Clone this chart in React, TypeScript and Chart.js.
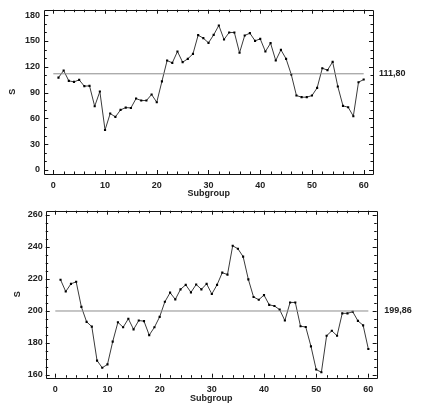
import React, { useEffect, useRef } from "react";
import { Chart, registerables } from "chart.js";

Chart.register(...registerables);

// ---- data ----
const SUBGROUPS: number[] = Array.from({ length: 60 }, (_, i) => i + 1);

const S_TOP: number[] = [
  107.4, 115.6, 103.6, 102.4, 104.7, 97.4, 97.8, 74, 91.2, 46.5,
  65.6, 61.7, 69.8, 72.5, 72.1, 83, 80.7, 80.7, 87.7, 78.7,
  103, 127.2, 124.5, 137.7, 125.3, 129.2, 135, 156.7, 153.2, 147.8,
  157, 168, 151.7, 159.8, 159.8, 136.2, 156.3, 159, 150.1, 152.4,
  137.7, 147.4, 127.2, 139.6, 129.2, 111, 86.5, 84.6, 84.6, 86.5,
  95.4, 118.3, 116, 125.7, 97, 74.5, 72.9, 62.5, 102, 105.1,
];
const CENTER_TOP = 111.8;
const CENTER_TOP_LABEL = "111,80";

const S_BOTTOM: number[] = [
  219.4, 212, 216.8, 218.1, 202.4, 193.1, 190.1, 168.9, 164.4, 166.5,
  180.7, 192.8, 189.7, 195, 188.4, 193.9, 193.5, 184.8, 189.7, 196.2,
  205.6, 211.3, 207.1, 213.4, 216.2, 211.5, 216.4, 213.4, 216.8, 210.5,
  216.2, 223.8, 222.6, 240.6, 238.7, 233.8, 219.6, 208.6, 206.9, 209.8,
  203.7, 203, 200.7, 193.9, 205.2, 205.2, 190.3, 189.9, 177.8, 163.3,
  161.6, 184.4, 187.5, 184.4, 198.4, 198.4, 199.4, 193.7, 190.9, 176.1,
];
const CENTER_BOTTOM = 199.86;
const CENTER_BOTTOM_LABEL = "199,86";

const X_TICKS: number[] = [0, 10, 20, 30, 40, 50, 60];
const X_MINOR_STEP = 2;
const Y_TICKS_TOP: number[] = [0, 30, 60, 90, 120, 150, 180];
const Y_MINOR_STEP_TOP = 10;
const Y_TICKS_BOTTOM: number[] = [160, 180, 200, 220, 240, 260];
const Y_MINOR_STEP_BOTTOM = 5;

const X_TITLE = "Subgroup";
const Y_TITLE = "S";

const FONT_FAMILY = "'Liberation Sans', Arial, sans-serif";
const TEXT_COLOR = "#222";

interface PanelCfg {
  height: number;
  values: number[];
  center: number;
  centerLabel: string;
  yTicks: number[];
  yMinor: number;
  xMin: number;
  xMax: number;
  yMin: number;
  yMax: number;
  padTop: number;
  padRight: number;
  yWidth: number;
  xHeight: number;
  yTitlePad: number;
  xTitlePad: number;
  yTickPad: number;
  xTickPad: number;
  labelGap: number;
}

function makeFramePlugin(cfg: PanelCfg) {
  return {
    id: "frameTicks",
    afterDatasetsDraw(chart: any) {
      const { ctx, chartArea } = chart;
      const xs = chart.scales.x;
      const ys = chart.scales.y;
      const { left, right, top, bottom } = chartArea;
      ctx.save();
      ctx.strokeStyle = "#111";
      ctx.lineWidth = 1;
      ctx.beginPath();
      ctx.rect(Math.round(left) + 0.5, Math.round(top) + 0.5, Math.round(right - left), Math.round(bottom - top));
      ctx.stroke();

      const drawX = (v: number, len: number) => {
        const p = Math.round(xs.getPixelForValue(v)) + 0.5;
        ctx.beginPath();
        ctx.moveTo(p, bottom);
        ctx.lineTo(p, bottom - len);
        ctx.moveTo(p, top);
        ctx.lineTo(p, top + len);
        ctx.stroke();
      };
      const drawY = (v: number, len: number) => {
        const p = Math.round(ys.getPixelForValue(v)) + 0.5;
        ctx.beginPath();
        ctx.moveTo(left, p);
        ctx.lineTo(left + len, p);
        ctx.moveTo(right, p);
        ctx.lineTo(right - len, p);
        ctx.stroke();
      };
      const x0 = X_TICKS[0];
      const x1 = X_TICKS[X_TICKS.length - 1];
      for (let v = x0; v <= x1 + 1e-9; v += X_MINOR_STEP) {
        drawX(v, X_TICKS.includes(v) ? 4 : 2.5);
      }
      const y0 = cfg.yTicks[0];
      const y1 = cfg.yTicks[cfg.yTicks.length - 1];
      for (let v = y0; v <= y1 + 1e-9; v += cfg.yMinor) {
        drawY(v, cfg.yTicks.includes(v) ? 4 : 2.5);
      }

      // center line value label
      const cy = ys.getPixelForValue(cfg.center);
      ctx.fillStyle = TEXT_COLOR;
      ctx.font = `bold 9px ${FONT_FAMILY}`;
      ctx.textAlign = "left";
      ctx.textBaseline = "middle";
      ctx.fillText(cfg.centerLabel, right + cfg.labelGap, cy);
      ctx.restore();
    },
  };
}

function Panel({ cfg }: { cfg: PanelCfg }) {
  const ref = useRef<HTMLCanvasElement | null>(null);
  useEffect(() => {
    if (!ref.current) return;
    const xFirst = X_TICKS[0];
    const xLast = X_TICKS[X_TICKS.length - 1];
    const chart = new Chart(ref.current, {
      type: "line",
      data: {
        datasets: [
          {
            data: [
              { x: xFirst, y: cfg.center },
              { x: xLast, y: cfg.center },
            ],
            borderColor: "#8c8c8c",
            borderWidth: 1,
            pointRadius: 0,
            fill: false,
          },
          {
            data: SUBGROUPS.map((s, i) => ({ x: s, y: cfg.values[i] })),
            borderColor: "#3a3a3a",
            borderWidth: 1,
            pointStyle: "rect",
            pointRadius: 1.5,
            pointBackgroundColor: "#000",
            pointBorderWidth: 0,
            fill: false,
            tension: 0,
          },
        ],
      },
      options: {
        animation: false,
        responsive: false,
        devicePixelRatio: 1,
        events: [],
        layout: { padding: { top: cfg.padTop, right: cfg.padRight, bottom: 0, left: 0 } },
        plugins: { legend: { display: false }, tooltip: { enabled: false } },
        scales: {
          x: {
            type: "linear",
            min: cfg.xMin,
            max: cfg.xMax,
            grid: { display: false, drawTicks: false },
            border: { display: false },
            afterBuildTicks: (s: any) => {
              s.ticks = X_TICKS.map((v) => ({ value: v }));
            },
            afterFit: (s: any) => {
              s.height = cfg.xHeight;
            },
            ticks: {
              padding: cfg.xTickPad,
              color: TEXT_COLOR,
              font: { family: FONT_FAMILY, size: 9, weight: "bold" },
              maxRotation: 0,
              callback: (v: any) => String(v),
            },
            title: {
              display: true,
              text: X_TITLE,
              color: TEXT_COLOR,
              font: { family: FONT_FAMILY, size: 9, weight: "bold" },
              padding: { top: 0, bottom: cfg.xTitlePad },
            },
          },
          y: {
            type: "linear",
            min: cfg.yMin,
            max: cfg.yMax,
            grid: { display: false, drawTicks: false },
            border: { display: false },
            afterBuildTicks: (s: any) => {
              s.ticks = cfg.yTicks.map((v) => ({ value: v }));
            },
            afterFit: (s: any) => {
              s.width = cfg.yWidth;
            },
            ticks: {
              padding: cfg.yTickPad,
              color: TEXT_COLOR,
              font: { family: FONT_FAMILY, size: 9, weight: "bold" },
              callback: (v: any) => String(v),
            },
            title: {
              display: true,
              text: Y_TITLE,
              color: TEXT_COLOR,
              font: { family: FONT_FAMILY, size: 9, weight: "bold" },
              padding: { top: cfg.yTitlePad, bottom: 0 },
            },
          },
        },
      },
      plugins: [makeFramePlugin(cfg)],
    } as any);
    return () => chart.destroy();
  }, [cfg]);
  return <canvas ref={ref} width={421} height={cfg.height} style={{ display: "block", width: 421, height: cfg.height }} />;
}

const TOP_CFG: PanelCfg = {
  height: 200,
  values: S_TOP,
  center: CENTER_TOP,
  centerLabel: CENTER_TOP_LABEL,
  yTicks: Y_TICKS_TOP,
  yMinor: Y_MINOR_STEP_TOP,
  xMin: -1.74,
  xMax: 61.8,
  yMin: -4.7,
  yMax: 186.3,
  padTop: 9.3,
  padRight: 48,
  yWidth: 44.3,
  xHeight: 26,
  yTitlePad: 7.3,
  xTitlePad: 0.6,
  yTickPad: 4.3,
  xTickPad: 6.5,
  labelGap: 6,
};

const BOTTOM_CFG: PanelCfg = {
  height: 209,
  values: S_BOTTOM,
  center: CENTER_BOTTOM,
  centerLabel: CENTER_BOTTOM_LABEL,
  yTicks: Y_TICKS_BOTTOM,
  yMinor: Y_MINOR_STEP_BOTTOM,
  xMin: -1.84,
  xMax: 61.6,
  yMin: 158.2,
  yMax: 262.5,
  padTop: 10.7,
  padRight: 44.3,
  yWidth: 45.7,
  xHeight: 31.3,
  yTitlePad: 11.9,
  xTitlePad: 5.3,
  yTickPad: 3,
  xTickPad: 6,
  labelGap: 7.6,
};

export default function App() {
  return (
    <div style={{ position: "absolute", left: 0, top: 0, width: 421, height: 409, background: "#fff" }}>
      <Panel cfg={TOP_CFG} />
      <Panel cfg={BOTTOM_CFG} />
    </div>
  );
}
